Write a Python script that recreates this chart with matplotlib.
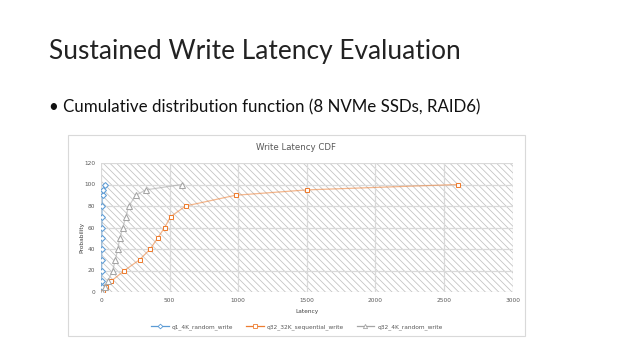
import matplotlib
matplotlib.use("Agg")
import matplotlib.pyplot as plt
from matplotlib.patches import Rectangle
from matplotlib.lines import Line2D

# ---- data ----
probability = [0, 5, 10, 20, 30, 40, 50, 60, 70, 80, 90, 95, 100]
q1_4k_random_write = [3, 4, 5, 5, 6, 6, 7, 7, 8, 9, 11, 17, 32]
q32_32k_sequential_write = [12, 37, 73, 171, 281, 359, 412, 464, 507, 617, 981, 1503, 2600]
q32_4k_random_write = [10, 30, 50, 85, 105, 122, 137, 159, 181, 203, 254, 327, 590]
series_names = ["q1_4K_random_write", "q32_32K_sequential_write", "q32_4K_random_write"]
x_ticks = [0, 500, 1000, 1500, 2000, 2500, 3000]
y_ticks = [0, 20, 40, 60, 80, 100, 120]

W, H = 640, 360
plt.rcParams['hatch.linewidth'] = 0.55
fig = plt.figure(figsize=(6.4, 3.6), dpi=100)


def fx(px):
    return px / W


def fy(py):
    return 1 - py / H


# slide title & bullet
fig.text(fx(49), fy(52), "Sustained Write Latency Evaluation", family="Lato",
         fontsize=18.9, color="#222222", va="center", ha="left")
fig.text(fx(49), fy(107), "\u2022 Cumulative distribution function (8 NVMe SSDs, RAID6)",
         family="Lato", fontsize=12.15, color="#111111", va="center", ha="left")

# chart box
box = Rectangle((fx(68), fy(336)), (525 - 68) / W, (336 - 135) / H,
                transform=fig.transFigure, facecolor="white",
                edgecolor="#d9d9d9", linewidth=0.8, zorder=-5)
fig.patches.append(box)

ax = fig.add_axes([fx(101), fy(292), (512.5 - 101) / W, (292 - 163) / H], zorder=2)
ax.set_xlim(0, 3000)
ax.set_ylim(0, 120)
ax.patch.set_alpha(0)
ax.add_patch(Rectangle((0, 0), 1, 1, transform=ax.transAxes, facecolor="white",
                       edgecolor="#c0c0c0", hatch="\\" * 5, linewidth=0, zorder=0))
for s in ax.spines.values():
    s.set_visible(False)
ax.set_xticks(x_ticks)
ax.set_yticks(y_ticks)
ax.grid(True, color="#d9d9d9", linewidth=0.9, zorder=1)
ax.set_axisbelow(False)
ax.tick_params(length=0, labelsize=4.2, labelcolor="#595959", pad=4)

styles = [
    (q1_4k_random_write, "#5b9bd5", "D", 3.0),
    (q32_32k_sequential_write, "#ed7d31", "s", 3.4),
    (q32_4k_random_write, "#a5a5a5", "^", 3.8),
]
for (xs, c, m, ms), name in zip(styles, series_names):
    ax.plot(xs, probability, color=c, alpha=0.55, linewidth=0.9, zorder=3)
    ax.plot(xs, probability, linestyle="none", marker=m, markersize=ms,
            markerfacecolor="white", markeredgecolor=c, markeredgewidth=0.75, zorder=4,
            label=name)

# chart title, axis labels
fig.text(fx(296), fy(148), "Write Latency CDF", fontsize=6.2, color="#595959",
         ha="center", va="center")
fig.text(fx(82), fy(237), "Probability", fontsize=4.2, color="#404040", rotation=90,
         ha="center", va="center")
fig.text(fx(307), fy(311), "Latency", fontsize=4.2, color="#404040",
         ha="center", va="center")

# legend
handles = []
for (xs, c, m, ms), name in zip(styles, series_names):
    handles.append(Line2D([0], [0], color=c, linewidth=0.9, marker=m, markersize=ms * 0.8,
                          markerfacecolor="white", markeredgecolor=c, markeredgewidth=0.6))
fig.legend(handles, series_names, loc="center", bbox_to_anchor=(fx(297), fy(327)),
           ncol=3, frameon=False, fontsize=4.2, labelcolor="#595959",
           handlelength=3, columnspacing=2.2, handletextpad=0.5)

fig.savefig("out.png", dpi=100, facecolor="white")
